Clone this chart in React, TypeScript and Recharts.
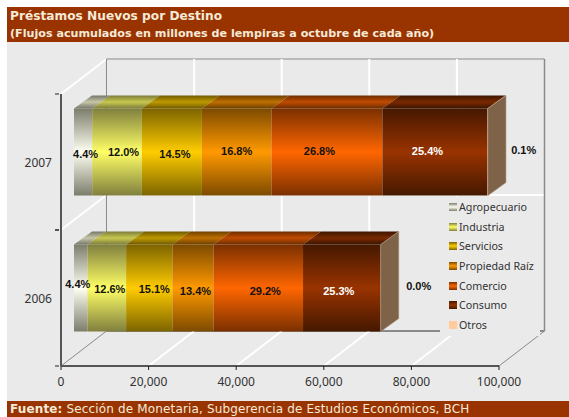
import React from 'react';
import { BarChart, Bar, XAxis, YAxis, CartesianGrid, Legend, LabelList } from 'recharts';

const years = ['2007', '2006'];
const seriesNames = ['Agropecuario', 'Industria', 'Servicios', 'Propiedad Raiz', 'Comercio', 'Consumo', 'Otros'];
const agropecuario = [4160, 3080];
const industria = [11340, 8820];
const servicios = [13700, 10570];
const propiedad = [15880, 9380];
const comercio = [25330, 20440];
const consumo = [24000, 17710];
const otros = [95, 30];
const sharesAgro = [4.4, 4.4];
const sharesIndustria = [12.0, 12.6];
const sharesServicios = [14.5, 15.1];
const sharesPropiedad = [16.8, 13.4];
const sharesComercio = [26.8, 29.2];
const sharesConsumo = [25.4, 25.3];
const sharesOtros = [0.1, 0.0];
const xTicks = [0, 20000, 40000, 60000, 80000, 100000];

const allValues = [agropecuario, industria, servicios, propiedad, comercio, consumo, otros];
const allShares = [sharesAgro, sharesIndustria, sharesServicios, sharesPropiedad, sharesComercio, sharesConsumo, sharesOtros];

const rows = years.map((year, r) => {
  const row: any = { year };
  seriesNames.forEach((name, s) => {
    row[name] = allValues[s][r];
    row[`${name} share`] = allShares[s][r];
  });
  return row;
});

// front face: edge colour, centre colour / top face: edge, centre
const FACES = [
  ['#7d7d6c', '#fffff2', '#77776a', '#c6c6a8'],
  ['#80803e', '#ffff66', '#7c7c3c', '#c8c850'],
  ['#7d6400', '#ffcc00', '#6f5a00', '#c09a00'],
  ['#7d4a00', '#ff9900', '#6e4000', '#c07000'],
  ['#7a3000', '#ff6600', '#6e2c00', '#c04c00'],
  ['#451800', '#993300', '#3c1500', '#7a2a00'],
  ['#ffcc99', '#ffcc99', '#ffcc99', '#ffcc99'],
];

// hand placement of the labels, same as in the picture
const LABEL_NUDGE = [
  [[2.5, 1.5], [-3, -4.5]],
  [[6.5, -0.5], [3, 0.5]],
  [[3, 1.5], [5, 0.5]],
  [[0, -1], [2.5, 2.5]],
  [[-7.5, -1.5], [7, 2.5]],
  [[-7.5, -1.5], [-3, 2.5]],
  [[36, -2.5], [38, -2.5]],
];

const PLOT_LEFT = 61;
const PLOT_TOP = 94;
const PLOT_W = 438;
const PLOT_H = 272;
const DEPTH_X = 45.5;
const DEPTH_Y = -35;
const BAR_X = 13;
const BAR_Y = -10.5;
const TOP_X = 18;
const TOP_Y = -13;

const WALL = '#8a8a8a';
const FONT = '"Noto Sans", sans-serif';

const makeShape = (s: number) => (props: any) => {
  const x = props.x + BAR_X;
  const y = props.y + BAR_Y;
  const { width: w, height: h } = props;
  return (
    <g>
      <polygon
        points={`${x},${y} ${x + TOP_X},${y + TOP_Y} ${x + w + TOP_X},${y + TOP_Y} ${x + w},${y}`}
        fill={`url(#top${s})`}
      />
      <rect x={x} y={y} width={w} height={h} fill={`url(#front${s})`} />
      {s === FACES.length - 1 && (
        <polygon
          points={`${x + w},${y} ${x + w + TOP_X},${y + TOP_Y} ${x + w + TOP_X},${y + h + TOP_Y} ${x + w},${y + h}`}
          fill="#7f6349"
          stroke="#a08a76"
          strokeWidth={0.6}
        />
      )}
    </g>
  );
};

const makeLabel = (s: number) => (props: any) => {
  const { x, y, width, height, value, index } = props;
  const [nx, ny] = LABEL_NUDGE[s][index];
  return (
    <text
      x={x + width / 2 + BAR_X + nx}
      y={y + height / 2 + BAR_Y + ny}
      textAnchor="middle"
      dominantBaseline="central"
      fontFamily="'Liberation Sans', Arial, sans-serif"
      fontWeight="bold"
      fontSize={11}
      fill={s === 5 ? '#ffffff' : '#111111'}
    >
      {`${Number(value).toFixed(1)}%`}
    </text>
  );
};

const VerticalWall = (props: any) => {
  const { x1, y2 } = props;
  const isEdge = x1 <= PLOT_LEFT + 0.5 || x1 >= PLOT_LEFT + PLOT_W - 0.5;
  const isRight = x1 >= PLOT_LEFT + PLOT_W - 0.5;
  return (
    <g key={props.key}>
      <line
        x1={x1}
        y1={y2}
        x2={x1 + DEPTH_X}
        y2={y2 + DEPTH_Y}
        stroke={isEdge ? WALL : '#ffffff'}
        strokeWidth={isEdge ? 1 : 2}
      />
      <line
        x1={x1 + DEPTH_X}
        y1={PLOT_TOP + DEPTH_Y}
        x2={x1 + DEPTH_X}
        y2={y2 + DEPTH_Y}
        stroke={isEdge ? WALL : '#ffffff'}
        strokeWidth={isRight ? 1.5 : isEdge ? 1 : 2}
      />
    </g>
  );
};

const HorizontalWall = (props: any) => {
  const { y1, x1, x2 } = props;
  const isBottom = y1 >= PLOT_TOP + PLOT_H - 0.5;
  const isTop = y1 <= PLOT_TOP + 0.5;
  return (
    <g key={props.key}>
      {!isBottom && (
        <line x1={x1} y1={y1} x2={x1 + DEPTH_X} y2={y1 + DEPTH_Y} stroke="#ffffff" strokeWidth={2} />
      )}
      <line
        x1={x1 + DEPTH_X}
        y1={y1 + DEPTH_Y}
        x2={x2 + DEPTH_X}
        y2={y1 + DEPTH_Y}
        stroke={isBottom || isTop ? WALL : '#ffffff'}
        strokeWidth={isBottom ? 2 : isTop ? 1 : 2}
      />
    </g>
  );
};

const YearTick = (props: any) => {
  const { x, y, payload } = props;
  const half = PLOT_H / years.length / 2;
  return (
    <g>
      <line x1={x - 4} y1={y - half} x2={x} y2={y - half} stroke="#222" />
      <line x1={x - 4} y1={y + half} x2={x} y2={y + half} stroke="#222" />
      <text x={x - 7} y={y} textAnchor="end" dominantBaseline="central" fontFamily={FONT} fontSize={12} fill="#333">
        {payload.value}
      </text>
    </g>
  );
};

const LegendBox = ({ payload }: any) => (
  <div style={{ width: 100, height: 139, background: '#eaeaea', boxSizing: 'border-box' }}>
    {(payload || []).map((entry: any) => {
      const s = seriesNames.indexOf(entry.value);
      const [edge, mid] = FACES[s];
      return (
        <div key={entry.value} style={{ display: 'flex', alignItems: 'center', height: 19.7, paddingLeft: 9 }}>
          <span
            style={{
              width: 8,
              height: 8,
              marginRight: 2,
              background: `linear-gradient(${edge}, ${mid}, ${edge})`,
            }}
          />
          <span style={{ fontFamily: FONT, fontSize: 10.7, color: '#333', whiteSpace: 'nowrap' }}>
            {entry.value === 'Propiedad Raiz' ? 'Propiedad Raíz' : entry.value}
          </span>
        </div>
      );
    })}
  </div>
);

const titleFont = '"DejaVu Sans", sans-serif';

export default function App() {
  return (
    <div style={{ position: 'absolute', left: 0, top: 0, width: 569, height: 417, background: '#ffffff', overflow: 'hidden' }}>
      <div style={{ position: 'absolute', left: 7, top: 7, width: 562, height: 35, background: '#993300', color: '#f5ead8', fontFamily: titleFont, fontWeight: 'bold', fontSize: 12.2 }}>
        <div style={{ position: 'absolute', left: 3, top: 0, lineHeight: '18px', whiteSpace: 'nowrap' }}>Préstamos Nuevos por Destino</div>
        <div style={{ position: 'absolute', left: 3, top: 18, lineHeight: '17px', whiteSpace: 'nowrap', fontSize: 11.15 }}>
          (Flujos acumulados en millones de lempiras a octubre de cada año)
        </div>
      </div>
      <div style={{ position: 'absolute', left: 7, top: 42, width: 562, height: 359, background: '#eaeaea' }} />
      <div style={{ position: 'absolute', left: 0, top: 0 }}>
        <BarChart
          width={569}
          height={417}
          data={rows}
          layout="vertical"
          barSize={87}
          margin={{ top: PLOT_TOP, right: 569 - PLOT_LEFT - PLOT_W, bottom: 16, left: 0 }}
        >
          <defs>
            {FACES.map((f, i) => (
              <React.Fragment key={i}>
                <linearGradient id={`front${i}`} x1="0" y1="0" x2="0" y2="1">
                  <stop offset="0%" stopColor={f[0]} />
                  <stop offset="50%" stopColor={f[1]} />
                  <stop offset="100%" stopColor={f[0]} />
                </linearGradient>
                <linearGradient id={`top${i}`} x1="0" y1="0" x2="0" y2="1">
                  <stop offset="0%" stopColor={f[2]} />
                  <stop offset="50%" stopColor={f[3]} />
                  <stop offset="100%" stopColor={f[2]} />
                </linearGradient>
              </React.Fragment>
            ))}
          </defs>
          <CartesianGrid
            vertical={VerticalWall}
            horizontal={HorizontalWall}
            horizontalPoints={[PLOT_TOP, PLOT_TOP + PLOT_H / 2, PLOT_TOP + PLOT_H]}
          />
          <XAxis
            type="number"
            domain={[0, 100000]}
            ticks={xTicks}
            height={35}
            tickFormatter={(v: number) => v.toLocaleString('en-US')}
            tick={{ fontFamily: FONT, fontSize: 12, fill: '#333' }}
            axisLine={{ stroke: '#555', strokeWidth: 2 }}
            tickLine={{ stroke: '#222' }}
            tickSize={4}
            tickMargin={7}
          />
          <YAxis
            type="category"
            dataKey="year"
            width={PLOT_LEFT}
            tick={YearTick}
            tickSize={0}
            tickLine={false}
            axisLine={{ stroke: '#555', strokeWidth: 2 }}
          />
          <Legend
            layout="vertical"
            align="center"
            verticalAlign="middle"
            itemSorter={null}
            content={LegendBox}
            wrapperStyle={{ position: 'absolute', left: 440, top: 197, width: 100, height: 139 }}
          />
          {seriesNames.map((name, s) => (
            <Bar
              key={name}
              dataKey={name}
              name={name}
              stackId="a"
              fill={FACES[s][1]}
              shape={makeShape(s)}
              isAnimationActive={false}
            >
              <LabelList dataKey={`${name} share`} content={makeLabel(s)} />
            </Bar>
          ))}
        </BarChart>
      </div>
      <div style={{ position: 'absolute', left: 7, top: 401, width: 562, height: 16, background: '#993300', color: '#f5ead8', fontFamily: titleFont, fontSize: 12, letterSpacing: 0.15, lineHeight: '16px', whiteSpace: 'nowrap' }}>
        <span style={{ position: 'absolute', left: 3, top: 0 }}>
          <b style={{ fontSize: 12 }}>Fuente:</b> Sección de Monetaria, Subgerencia de Estudios Económicos, BCH
        </span>
      </div>
    </div>
  );
}
